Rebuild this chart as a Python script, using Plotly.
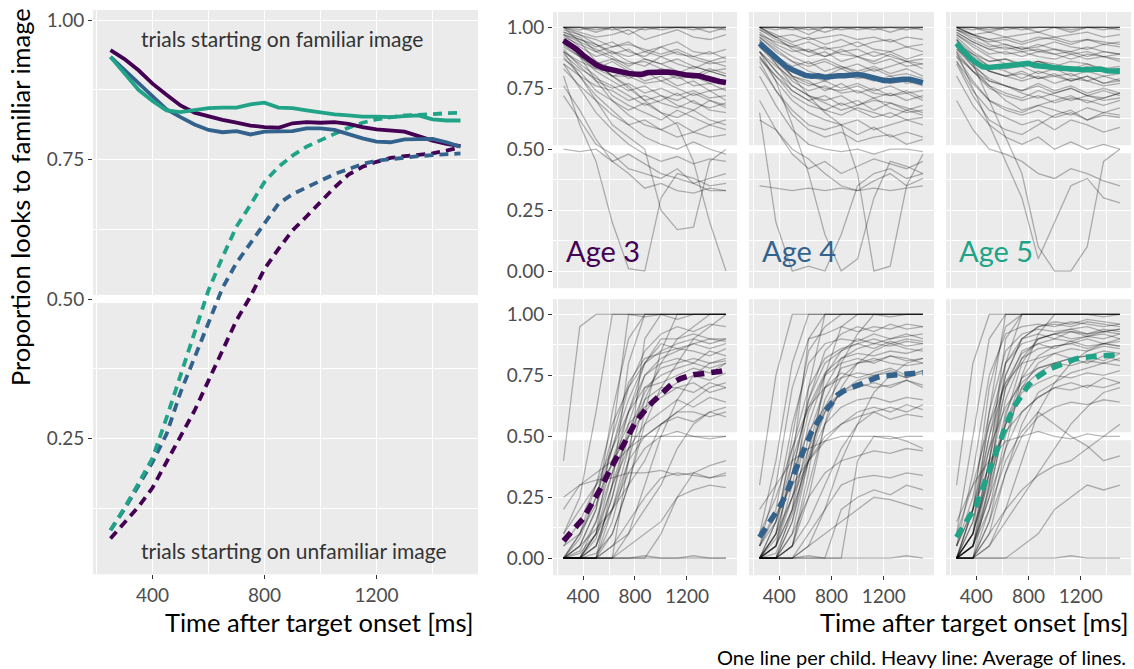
import plotly.graph_objects as go

# ---------------- data ----------------
avg_times = [250, 300, 350, 400, 450, 500, 550, 600, 650, 700, 750, 800, 850,
             900, 950, 1000, 1050, 1100, 1150, 1200, 1250, 1300, 1350, 1400, 1450, 1500]

fam_avg_age3 = [0.946, 0.930, 0.910, 0.886, 0.866, 0.847, 0.834, 0.827, 0.821, 0.816, 0.811, 0.808, 0.807,
                0.815, 0.817, 0.816, 0.817, 0.814, 0.808, 0.804, 0.802, 0.800, 0.792, 0.784, 0.778, 0.774]
fam_avg_age4 = [0.934, 0.910, 0.888, 0.862, 0.840, 0.826, 0.813, 0.803, 0.799, 0.801, 0.795, 0.800, 0.801,
                0.801, 0.806, 0.806, 0.803, 0.795, 0.788, 0.782, 0.781, 0.786, 0.787, 0.787, 0.781, 0.773]
fam_avg_age5 = [0.934, 0.905, 0.875, 0.855, 0.838, 0.835, 0.838, 0.842, 0.843, 0.843, 0.849, 0.852, 0.843,
                0.842, 0.838, 0.834, 0.831, 0.829, 0.827, 0.827, 0.826, 0.828, 0.829, 0.822, 0.820, 0.820]

unf_avg_age3 = [0.071, 0.100, 0.128, 0.162, 0.208, 0.252, 0.300, 0.354, 0.408, 0.462, 0.505, 0.554, 0.590,
                0.623, 0.648, 0.675, 0.700, 0.723, 0.737, 0.746, 0.753, 0.756, 0.758, 0.761, 0.766, 0.772]
unf_avg_age4 = [0.086, 0.124, 0.166, 0.208, 0.258, 0.333, 0.395, 0.458, 0.520, 0.565, 0.600, 0.636, 0.671,
                0.688, 0.700, 0.711, 0.724, 0.733, 0.742, 0.748, 0.751, 0.754, 0.756, 0.758, 0.760, 0.761]
unf_avg_age5 = [0.086, 0.126, 0.170, 0.215, 0.287, 0.362, 0.437, 0.516, 0.575, 0.630, 0.669, 0.710, 0.737,
                0.757, 0.773, 0.785, 0.796, 0.807, 0.816, 0.822, 0.826, 0.829, 0.830, 0.832, 0.833, 0.834]

child_times = [250, 375, 500, 625, 750, 875, 1000, 1125, 1250, 1375, 1500]

fam_children_age3 = [
    [1.00, 1.00, 1.00, 1.00, 1.00, 1.00, 1.00, 1.00, 1.00, 1.00, 1.00],
    [1.00, 1.00, 1.00, 0.99, 1.00, 1.00, 1.00, 1.00, 0.99, 1.00, 1.00],
    [1.00, 1.00, 0.98, 1.00, 1.00, 1.00, 0.99, 1.00, 1.00, 1.00, 1.00],
    [1.00, 0.99, 1.00, 1.00, 0.97, 1.00, 1.00, 1.00, 1.00, 0.98, 1.00],
    [1.00, 0.98, 0.96, 0.97, 0.99, 0.95, 0.97, 0.99, 0.96, 0.95, 0.97],
    [0.98, 0.95, 0.92, 0.94, 0.90, 0.88, 0.92, 0.94, 0.90, 0.89, 0.91],
    [0.97, 0.92, 0.88, 0.90, 0.86, 0.84, 0.88, 0.85, 0.83, 0.86, 0.84],
    [0.95, 0.90, 0.85, 0.80, 0.82, 0.78, 0.80, 0.76, 0.78, 0.74, 0.75],
    [0.93, 0.88, 0.83, 0.86, 0.82, 0.80, 0.83, 0.81, 0.79, 0.82, 0.80],
    [0.92, 0.88, 0.82, 0.78, 0.74, 0.76, 0.72, 0.70, 0.73, 0.70, 0.68],
    [1.00, 0.94, 0.86, 0.80, 0.76, 0.70, 0.72, 0.68, 0.66, 0.70, 0.67],
    [0.90, 0.85, 0.80, 0.72, 0.68, 0.65, 0.62, 0.66, 0.63, 0.60, 0.62],
    [0.95, 0.88, 0.78, 0.70, 0.64, 0.60, 0.58, 0.55, 0.57, 0.60, 0.58],
    [0.88, 0.80, 0.72, 0.66, 0.60, 0.55, 0.52, 0.50, 0.53, 0.50, 0.48],
    [0.85, 0.75, 0.65, 0.58, 0.52, 0.48, 0.45, 0.47, 0.44, 0.46, 0.45],
    [0.72, 0.62, 0.52, 0.48, 0.42, 0.40, 0.38, 0.42, 0.36, 0.38, 0.40],
    [0.76, 0.66, 0.54, 0.45, 0.40, 0.34, 0.36, 0.33, 0.32, 0.34, 0.33],
    [0.50, 0.49, 0.50, 0.45, 0.48, 0.44, 0.40, 0.38, 0.36, 0.33, 0.33],
    [0.80, 0.60, 0.45, 0.20, 0.01, 0.00, 0.30, 0.40, 0.38, 0.35, 0.36],
    [0.90, 0.80, 0.70, 0.60, 0.55, 0.50, 0.25, 0.17, 0.18, 0.45, 0.50],
    [0.95, 0.90, 0.85, 0.80, 0.75, 0.70, 0.65, 0.60, 0.45, 0.20, 0.00],
    [0.97, 0.95, 0.93, 0.90, 0.88, 0.90, 0.92, 0.89, 0.88, 0.86, 0.88],
    [0.98, 0.96, 0.90, 0.92, 0.94, 0.90, 0.88, 0.90, 0.87, 0.85, 0.86],
    [0.93, 0.90, 0.85, 0.87, 0.83, 0.80, 0.82, 0.79, 0.80, 0.77, 0.78],
    [0.90, 0.86, 0.83, 0.80, 0.80, 0.77, 0.78, 0.75, 0.72, 0.74, 0.70],
    [0.85, 0.80, 0.76, 0.74, 0.70, 0.72, 0.69, 0.67, 0.70, 0.66, 0.65],
    [0.96, 0.93, 0.90, 0.87, 0.85, 0.86, 0.83, 0.81, 0.84, 0.82, 0.80],
    [0.99, 0.97, 0.95, 0.92, 0.93, 0.91, 0.89, 0.91, 0.88, 0.90, 0.87],
    [0.91, 0.84, 0.78, 0.75, 0.77, 0.73, 0.75, 0.72, 0.74, 0.71, 0.72],
    [0.94, 0.89, 0.86, 0.83, 0.79, 0.82, 0.78, 0.80, 0.76, 0.77, 0.74],
    [0.87, 0.82, 0.74, 0.70, 0.66, 0.69, 0.65, 0.63, 0.66, 0.62, 0.60],
    [1.00, 0.97, 0.93, 0.89, 0.91, 0.87, 0.85, 0.87, 0.84, 0.82, 0.83],
    [0.89, 0.83, 0.79, 0.76, 0.72, 0.68, 0.70, 0.73, 0.69, 0.67, 0.69],
    [0.97, 0.94, 0.91, 0.88, 0.84, 0.87, 0.85, 0.82, 0.80, 0.83, 0.81],
    [0.83, 0.76, 0.70, 0.64, 0.60, 0.62, 0.58, 0.61, 0.57, 0.55, 0.56],
    [1.00, 1.00, 0.99, 1.00, 1.00, 0.99, 1.00, 1.00, 1.00, 1.00, 0.99],
]

fam_children_age4 = [
    [1.00, 1.00, 1.00, 1.00, 1.00, 1.00, 1.00, 1.00, 1.00, 1.00, 1.00],
    [1.00, 1.00, 0.99, 1.00, 1.00, 1.00, 1.00, 0.99, 1.00, 1.00, 1.00],
    [1.00, 1.00, 1.00, 1.00, 0.98, 1.00, 1.00, 1.00, 1.00, 1.00, 0.99],
    [1.00, 0.99, 1.00, 0.97, 1.00, 0.99, 1.00, 1.00, 0.98, 1.00, 1.00],
    [1.00, 0.97, 0.94, 0.96, 0.93, 0.95, 0.92, 0.94, 0.95, 0.92, 0.93],
    [0.98, 0.93, 0.90, 0.91, 0.88, 0.90, 0.91, 0.88, 0.90, 0.87, 0.89],
    [0.96, 0.90, 0.86, 0.84, 0.86, 0.83, 0.85, 0.82, 0.84, 0.86, 0.83],
    [0.94, 0.88, 0.82, 0.80, 0.78, 0.81, 0.79, 0.80, 0.77, 0.78, 0.76],
    [0.92, 0.86, 0.80, 0.77, 0.75, 0.74, 0.76, 0.73, 0.72, 0.74, 0.71],
    [0.95, 0.85, 0.76, 0.72, 0.70, 0.72, 0.68, 0.70, 0.69, 0.66, 0.68],
    [0.90, 0.82, 0.74, 0.70, 0.66, 0.64, 0.67, 0.65, 0.63, 0.66, 0.64],
    [0.88, 0.78, 0.70, 0.65, 0.62, 0.60, 0.62, 0.58, 0.60, 0.62, 0.60],
    [0.86, 0.74, 0.64, 0.58, 0.55, 0.57, 0.53, 0.55, 0.56, 0.52, 0.54],
    [0.80, 0.68, 0.58, 0.52, 0.50, 0.49, 0.50, 0.48, 0.50, 0.50, 0.49],
    [0.70, 0.58, 0.48, 0.42, 0.45, 0.40, 0.43, 0.46, 0.44, 0.42, 0.45],
    [0.35, 0.34, 0.33, 0.34, 0.33, 0.34, 0.33, 0.34, 0.33, 0.34, 0.35],
    [0.65, 0.20, 0.00, 0.02, 0.00, 0.15, 0.35, 0.40, 0.42, 0.38, 0.40],
    [0.90, 0.78, 0.60, 0.40, 0.15, 0.00, 0.05, 0.30, 0.45, 0.43, 0.40],
    [0.95, 0.88, 0.80, 0.72, 0.65, 0.60, 0.40, 0.00, 0.02, 0.35, 0.48],
    [0.62, 0.58, 0.50, 0.46, 0.40, 0.35, 0.33, 0.37, 0.40, 0.35, 0.38],
    [0.97, 0.94, 0.92, 0.90, 0.92, 0.89, 0.88, 0.90, 0.88, 0.86, 0.87],
    [0.99, 0.95, 0.92, 0.94, 0.91, 0.92, 0.94, 0.91, 0.90, 0.92, 0.90],
    [0.93, 0.88, 0.84, 0.86, 0.82, 0.84, 0.81, 0.83, 0.80, 0.81, 0.79],
    [0.90, 0.84, 0.79, 0.76, 0.78, 0.75, 0.77, 0.74, 0.76, 0.73, 0.74],
    [0.87, 0.80, 0.74, 0.70, 0.72, 0.68, 0.70, 0.66, 0.69, 0.67, 0.65],
    [1.00, 0.96, 0.97, 0.95, 0.96, 0.97, 0.95, 0.96, 0.94, 0.96, 0.95],
    [0.97, 0.92, 0.88, 0.85, 0.87, 0.84, 0.82, 0.84, 0.81, 0.83, 0.80],
    [0.99, 0.96, 0.93, 0.90, 0.88, 0.91, 0.88, 0.86, 0.89, 0.86, 0.85],
    [0.92, 0.85, 0.78, 0.74, 0.76, 0.73, 0.74, 0.71, 0.73, 0.70, 0.72],
    [0.94, 0.87, 0.80, 0.78, 0.74, 0.77, 0.73, 0.75, 0.72, 0.73, 0.70],
    [0.88, 0.80, 0.72, 0.68, 0.66, 0.69, 0.66, 0.63, 0.65, 0.62, 0.63],
    [1.00, 0.96, 0.91, 0.88, 0.90, 0.86, 0.88, 0.85, 0.87, 0.84, 0.85],
    [0.90, 0.82, 0.76, 0.72, 0.69, 0.66, 0.68, 0.71, 0.67, 0.65, 0.66],
    [0.96, 0.91, 0.86, 0.82, 0.80, 0.83, 0.80, 0.78, 0.80, 0.77, 0.78],
    [0.84, 0.74, 0.66, 0.60, 0.58, 0.60, 0.56, 0.59, 0.55, 0.57, 0.55],
    [1.00, 1.00, 1.00, 0.99, 1.00, 1.00, 0.99, 1.00, 1.00, 0.99, 1.00],
]

fam_children_age5 = [
    [1.00, 1.00, 1.00, 1.00, 1.00, 1.00, 1.00, 1.00, 1.00, 1.00, 1.00],
    [1.00, 1.00, 1.00, 0.99, 1.00, 1.00, 1.00, 1.00, 1.00, 0.99, 1.00],
    [1.00, 0.99, 1.00, 1.00, 1.00, 0.98, 1.00, 1.00, 1.00, 1.00, 1.00],
    [1.00, 1.00, 0.98, 1.00, 0.99, 1.00, 1.00, 0.98, 1.00, 1.00, 0.99],
    [1.00, 0.97, 0.95, 0.96, 0.94, 0.96, 0.95, 0.93, 0.95, 0.94, 0.93],
    [0.99, 0.95, 0.92, 0.93, 0.91, 0.92, 0.94, 0.92, 0.91, 0.93, 0.92],
    [0.97, 0.93, 0.89, 0.90, 0.88, 0.90, 0.89, 0.87, 0.89, 0.88, 0.87],
    [0.96, 0.90, 0.86, 0.87, 0.85, 0.86, 0.84, 0.86, 0.85, 0.83, 0.84],
    [0.94, 0.88, 0.84, 0.83, 0.84, 0.81, 0.83, 0.80, 0.82, 0.80, 0.81],
    [0.95, 0.87, 0.82, 0.80, 0.78, 0.80, 0.77, 0.79, 0.78, 0.76, 0.77],
    [0.92, 0.85, 0.78, 0.76, 0.74, 0.76, 0.73, 0.75, 0.72, 0.74, 0.72],
    [0.90, 0.82, 0.75, 0.72, 0.70, 0.72, 0.69, 0.71, 0.70, 0.68, 0.70],
    [0.88, 0.78, 0.70, 0.67, 0.65, 0.68, 0.66, 0.64, 0.67, 0.65, 0.64],
    [0.86, 0.74, 0.66, 0.63, 0.60, 0.62, 0.58, 0.62, 0.60, 0.57, 0.59],
    [0.80, 0.68, 0.60, 0.55, 0.52, 0.55, 0.50, 0.53, 0.50, 0.52, 0.50],
    [0.70, 0.58, 0.50, 0.48, 0.45, 0.40, 0.38, 0.42, 0.40, 0.37, 0.35],
    [0.90, 0.75, 0.60, 0.45, 0.30, 0.05, 0.20, 0.35, 0.38, 0.30, 0.28],
    [0.95, 0.85, 0.70, 0.55, 0.40, 0.10, 0.00, 0.00, 0.10, 0.45, 0.50],
    [0.98, 0.94, 0.91, 0.92, 0.90, 0.91, 0.89, 0.90, 0.88, 0.90, 0.89],
    [0.99, 0.96, 0.94, 0.95, 0.93, 0.95, 0.96, 0.94, 0.95, 0.93, 0.94],
    [0.93, 0.89, 0.86, 0.87, 0.84, 0.86, 0.85, 0.83, 0.85, 0.82, 0.83],
    [0.91, 0.86, 0.82, 0.80, 0.82, 0.79, 0.81, 0.78, 0.80, 0.77, 0.78],
    [0.88, 0.82, 0.78, 0.76, 0.74, 0.77, 0.74, 0.76, 0.73, 0.75, 0.73],
    [1.00, 0.97, 0.98, 0.96, 0.97, 0.98, 0.96, 0.97, 0.98, 0.96, 0.97],
    [0.85, 0.72, 0.62, 0.58, 0.56, 0.60, 0.64, 0.66, 0.62, 0.65, 0.67],
    [0.92, 0.84, 0.76, 0.70, 0.66, 0.68, 0.70, 0.72, 0.69, 0.71, 0.73],
    [0.98, 0.94, 0.91, 0.89, 0.90, 0.88, 0.87, 0.89, 0.87, 0.88, 0.86],
    [0.99, 0.97, 0.95, 0.93, 0.91, 0.93, 0.91, 0.90, 0.92, 0.90, 0.89],
    [0.93, 0.87, 0.82, 0.80, 0.81, 0.79, 0.80, 0.78, 0.80, 0.77, 0.79],
    [0.95, 0.89, 0.84, 0.82, 0.79, 0.82, 0.80, 0.81, 0.78, 0.80, 0.78],
    [0.89, 0.82, 0.76, 0.73, 0.71, 0.74, 0.72, 0.70, 0.72, 0.70, 0.71],
    [1.00, 0.97, 0.93, 0.91, 0.92, 0.90, 0.91, 0.89, 0.90, 0.88, 0.89],
    [0.91, 0.84, 0.79, 0.76, 0.73, 0.71, 0.73, 0.75, 0.72, 0.71, 0.73],
    [0.97, 0.92, 0.88, 0.85, 0.84, 0.86, 0.84, 0.82, 0.84, 0.82, 0.83],
    [0.86, 0.77, 0.70, 0.66, 0.64, 0.66, 0.63, 0.65, 0.62, 0.64, 0.63],
    [1.00, 1.00, 0.99, 1.00, 1.00, 1.00, 1.00, 0.99, 1.00, 1.00, 1.00],
]

unf_children_age3 = [
    [0.00, 0.00, 0.10, 0.50, 1.00, 1.00, 1.00, 1.00, 1.00, 1.00, 1.00],
    [0.00, 0.00, 0.00, 0.30, 0.80, 1.00, 1.00, 1.00, 1.00, 1.00, 1.00],
    [0.00, 0.05, 0.20, 0.60, 0.90, 1.00, 1.00, 0.98, 1.00, 1.00, 1.00],
    [0.00, 0.00, 0.00, 0.00, 0.40, 0.90, 1.00, 1.00, 1.00, 1.00, 1.00],
    [0.00, 0.00, 0.00, 0.10, 0.30, 0.60, 0.85, 1.00, 1.00, 1.00, 1.00],
    [0.00, 0.10, 0.30, 0.55, 0.70, 0.80, 0.85, 0.88, 0.90, 0.88, 0.90],
    [0.00, 0.00, 0.15, 0.40, 0.60, 0.75, 0.80, 0.82, 0.80, 0.85, 0.83],
    [0.05, 0.15, 0.30, 0.45, 0.60, 0.70, 0.72, 0.75, 0.78, 0.76, 0.80],
    [0.00, 0.00, 0.05, 0.25, 0.50, 0.65, 0.70, 0.70, 0.72, 0.68, 0.70],
    [0.00, 0.02, 0.10, 0.30, 0.45, 0.55, 0.60, 0.65, 0.62, 0.66, 0.64],
    [0.20, 0.30, 0.35, 0.40, 0.50, 0.50, 0.50, 0.50, 0.50, 0.50, 0.50],
    [0.00, 0.00, 0.10, 0.20, 0.35, 0.45, 0.50, 0.52, 0.50, 0.49, 0.50],
    [0.00, 0.00, 0.00, 0.05, 0.15, 0.25, 0.33, 0.35, 0.34, 0.33, 0.34],
    [0.00, 0.00, 0.00, 0.00, 0.00, 0.00, 0.10, 0.25, 0.35, 0.38, 0.40],
    [0.00, 0.00, 0.00, 0.00, 0.00, 0.00, 0.00, 0.00, 0.01, 0.00, 0.00],
    [0.00, 0.00, 0.00, 0.00, 0.00, 0.01, 0.00, 0.00, 0.00, 0.00, 0.00],
    [0.10, 0.25, 0.60, 1.00, 1.00, 1.00, 1.00, 1.00, 1.00, 1.00, 1.00],
    [0.40, 0.95, 1.00, 1.00, 1.00, 0.99, 1.00, 1.00, 1.00, 1.00, 1.00],
    [0.00, 0.10, 0.25, 0.45, 0.65, 0.80, 0.90, 0.90, 0.92, 0.90, 0.90],
    [0.00, 0.00, 0.00, 0.20, 0.45, 0.70, 0.75, 0.78, 0.80, 0.78, 0.80],
    [0.00, 0.05, 0.12, 0.20, 0.30, 0.40, 0.55, 0.60, 0.60, 0.58, 0.60],
    [0.00, 0.00, 0.00, 0.00, 0.05, 0.10, 0.15, 0.25, 0.28, 0.30, 0.29],
    [0.00, 0.00, 0.02, 0.10, 0.30, 0.55, 0.70, 0.80, 0.90, 0.95, 1.00],
    [0.00, 0.00, 0.05, 0.20, 0.40, 0.50, 0.55, 0.60, 0.65, 0.70, 0.72],
    [0.25, 0.30, 0.32, 0.33, 0.35, 0.35, 0.36, 0.34, 0.35, 0.33, 0.35],
    [0.00, 0.00, 0.00, 0.05, 0.10, 0.20, 0.30, 0.45, 0.55, 0.60, 0.62],
    [0.00, 0.05, 0.20, 0.45, 0.70, 0.85, 0.92, 0.95, 0.93, 0.96, 0.95],
    [0.00, 0.00, 0.10, 0.35, 0.60, 0.80, 0.88, 0.86, 0.88, 0.90, 0.89],
    [0.00, 0.08, 0.25, 0.50, 0.72, 0.82, 0.84, 0.86, 0.85, 0.83, 0.86],
    [0.00, 0.00, 0.05, 0.25, 0.55, 0.75, 0.82, 0.85, 0.88, 0.86, 0.88],
    [0.05, 0.10, 0.22, 0.40, 0.55, 0.62, 0.66, 0.70, 0.68, 0.72, 0.70],
    [0.00, 0.00, 0.00, 0.15, 0.40, 0.65, 0.80, 0.90, 0.95, 1.00, 1.00],
    [0.00, 0.03, 0.15, 0.35, 0.50, 0.60, 0.68, 0.72, 0.75, 0.73, 0.76],
    [0.00, 0.00, 0.08, 0.30, 0.52, 0.68, 0.78, 0.80, 0.82, 0.80, 0.81],
    [0.10, 0.20, 0.30, 0.38, 0.45, 0.50, 0.55, 0.58, 0.56, 0.60, 0.58],
    [0.00, 0.00, 0.00, 0.00, 0.10, 0.30, 0.50, 0.65, 0.75, 0.80, 0.82],
]

unf_children_age4 = [
    [0.00, 0.05, 0.40, 0.90, 1.00, 1.00, 1.00, 1.00, 1.00, 1.00, 1.00],
    [0.00, 0.00, 0.20, 0.70, 1.00, 1.00, 1.00, 1.00, 1.00, 1.00, 1.00],
    [0.00, 0.10, 0.50, 0.85, 0.95, 1.00, 1.00, 1.00, 0.99, 1.00, 1.00],
    [0.00, 0.00, 0.05, 0.35, 0.75, 0.95, 1.00, 1.00, 1.00, 1.00, 1.00],
    [0.05, 0.30, 0.70, 0.90, 0.92, 0.95, 0.93, 0.95, 0.94, 0.96, 0.95],
    [0.00, 0.15, 0.45, 0.70, 0.82, 0.86, 0.88, 0.86, 0.89, 0.87, 0.88],
    [0.00, 0.05, 0.30, 0.60, 0.75, 0.80, 0.82, 0.80, 0.83, 0.81, 0.82],
    [0.10, 0.25, 0.45, 0.62, 0.70, 0.74, 0.76, 0.75, 0.77, 0.74, 0.76],
    [0.00, 0.00, 0.15, 0.40, 0.60, 0.68, 0.72, 0.70, 0.71, 0.73, 0.70],
    [0.00, 0.05, 0.20, 0.40, 0.55, 0.62, 0.65, 0.66, 0.64, 0.66, 0.65],
    [0.00, 0.10, 0.25, 0.40, 0.50, 0.55, 0.58, 0.60, 0.57, 0.59, 0.58],
    [0.20, 0.30, 0.40, 0.45, 0.48, 0.50, 0.50, 0.50, 0.49, 0.50, 0.50],
    [0.00, 0.00, 0.10, 0.25, 0.35, 0.40, 0.42, 0.44, 0.43, 0.45, 0.44],
    [0.00, 0.00, 0.00, 0.10, 0.20, 0.30, 0.33, 0.34, 0.33, 0.35, 0.34],
    [0.00, 0.00, 0.00, 0.00, 0.00, 0.00, 0.40, 0.50, 0.50, 0.48, 0.45],
    [0.00, 0.00, 0.00, 0.01, 0.00, 0.00, 0.00, 0.00, 0.00, 0.01, 0.00],
    [0.30, 0.75, 1.00, 1.00, 1.00, 1.00, 1.00, 1.00, 1.00, 1.00, 1.00],
    [0.10, 0.40, 0.80, 1.00, 1.00, 1.00, 1.00, 1.00, 1.00, 1.00, 1.00],
    [0.00, 0.10, 0.35, 0.65, 0.80, 0.85, 0.90, 0.88, 0.90, 0.92, 0.90],
    [0.00, 0.00, 0.10, 0.40, 0.65, 0.78, 0.80, 0.82, 0.80, 0.79, 0.80],
    [0.00, 0.05, 0.20, 0.50, 0.70, 0.76, 0.74, 0.76, 0.78, 0.75, 0.77],
    [0.00, 0.00, 0.05, 0.15, 0.30, 0.45, 0.55, 0.60, 0.62, 0.60, 0.63],
    [0.00, 0.00, 0.00, 0.05, 0.10, 0.15, 0.20, 0.25, 0.24, 0.22, 0.20],
    [0.05, 0.20, 0.55, 0.80, 0.88, 0.90, 0.89, 0.92, 0.90, 0.91, 0.92],
    [0.00, 0.00, 0.05, 0.30, 0.55, 0.70, 0.80, 0.85, 0.88, 0.86, 0.85],
    [0.00, 0.00, 0.00, 0.00, 0.00, 0.20, 0.25, 0.28, 0.26, 0.30, 0.28],
    [0.00, 0.10, 0.35, 0.65, 0.85, 0.92, 0.95, 0.93, 0.96, 0.94, 0.95],
    [0.00, 0.05, 0.25, 0.55, 0.75, 0.85, 0.88, 0.90, 0.88, 0.90, 0.89],
    [0.00, 0.15, 0.40, 0.62, 0.76, 0.82, 0.84, 0.83, 0.85, 0.84, 0.86],
    [0.00, 0.00, 0.15, 0.45, 0.70, 0.82, 0.86, 0.88, 0.87, 0.89, 0.88],
    [0.05, 0.15, 0.35, 0.52, 0.62, 0.68, 0.70, 0.72, 0.70, 0.73, 0.71],
    [0.00, 0.00, 0.05, 0.25, 0.55, 0.80, 0.92, 1.00, 1.00, 1.00, 1.00],
    [0.00, 0.08, 0.25, 0.45, 0.60, 0.68, 0.73, 0.75, 0.76, 0.74, 0.77],
    [0.00, 0.02, 0.18, 0.42, 0.62, 0.74, 0.80, 0.81, 0.83, 0.82, 0.80],
    [0.05, 0.18, 0.30, 0.40, 0.48, 0.55, 0.60, 0.62, 0.60, 0.63, 0.61],
    [0.00, 0.00, 0.00, 0.05, 0.20, 0.40, 0.55, 0.68, 0.75, 0.80, 0.82],
]

unf_children_age5 = [
    [0.00, 0.10, 0.60, 1.00, 1.00, 1.00, 1.00, 1.00, 1.00, 1.00, 1.00],
    [0.00, 0.05, 0.40, 0.90, 1.00, 1.00, 1.00, 1.00, 1.00, 1.00, 1.00],
    [0.00, 0.20, 0.70, 0.95, 1.00, 1.00, 1.00, 1.00, 1.00, 0.99, 1.00],
    [0.00, 0.00, 0.30, 0.80, 1.00, 1.00, 1.00, 1.00, 1.00, 1.00, 1.00],
    [0.05, 0.35, 0.75, 0.92, 0.95, 0.96, 0.95, 0.97, 0.96, 0.95, 0.96],
    [0.00, 0.20, 0.55, 0.80, 0.88, 0.90, 0.92, 0.90, 0.91, 0.93, 0.92],
    [0.00, 0.10, 0.40, 0.70, 0.82, 0.86, 0.87, 0.88, 0.86, 0.88, 0.87],
    [0.10, 0.30, 0.55, 0.72, 0.80, 0.82, 0.84, 0.82, 0.83, 0.85, 0.84],
    [0.00, 0.05, 0.30, 0.60, 0.74, 0.78, 0.80, 0.79, 0.81, 0.80, 0.82],
    [0.00, 0.10, 0.35, 0.55, 0.68, 0.72, 0.75, 0.74, 0.76, 0.75, 0.77],
    [0.00, 0.05, 0.25, 0.45, 0.60, 0.66, 0.70, 0.69, 0.71, 0.70, 0.72],
    [0.00, 0.00, 0.15, 0.35, 0.50, 0.58, 0.62, 0.64, 0.63, 0.65, 0.64],
    [0.15, 0.30, 0.40, 0.48, 0.50, 0.52, 0.50, 0.49, 0.51, 0.50, 0.50],
    [0.00, 0.00, 0.10, 0.20, 0.28, 0.34, 0.38, 0.40, 0.45, 0.50, 0.55],
    [0.00, 0.00, 0.00, 0.00, 0.05, 0.10, 0.20, 0.25, 0.30, 0.28, 0.30],
    [0.00, 0.00, 0.00, 0.00, 0.00, 0.00, 0.00, 0.01, 0.00, 0.00, 0.00],
    [0.30, 0.80, 1.00, 1.00, 1.00, 1.00, 1.00, 1.00, 1.00, 1.00, 1.00],
    [0.10, 0.50, 0.90, 1.00, 1.00, 1.00, 1.00, 1.00, 1.00, 1.00, 1.00],
    [0.00, 0.15, 0.50, 0.80, 0.90, 0.92, 0.90, 0.93, 0.91, 0.92, 0.90],
    [0.00, 0.05, 0.35, 0.70, 0.85, 0.88, 0.86, 0.89, 0.87, 0.88, 0.89],
    [0.00, 0.10, 0.40, 0.75, 0.90, 0.95, 0.96, 0.95, 0.97, 0.96, 0.95],
    [0.00, 0.00, 0.20, 0.50, 0.70, 0.80, 0.84, 0.86, 0.85, 0.87, 0.86],
    [0.05, 0.25, 0.60, 0.85, 0.92, 0.94, 0.93, 0.94, 0.95, 0.93, 0.94],
    [0.00, 0.00, 0.10, 0.35, 0.55, 0.68, 0.72, 0.76, 0.78, 0.80, 0.79],
    [0.00, 0.05, 0.20, 0.40, 0.52, 0.60, 0.55, 0.50, 0.46, 0.40, 0.42],
    [0.00, 0.00, 0.05, 0.15, 0.25, 0.35, 0.45, 0.55, 0.62, 0.68, 0.70],
    [0.00, 0.15, 0.45, 0.75, 0.90, 0.95, 0.97, 0.96, 0.98, 0.97, 0.96],
    [0.00, 0.10, 0.35, 0.65, 0.82, 0.90, 0.92, 0.94, 0.92, 0.93, 0.94],
    [0.00, 0.20, 0.50, 0.72, 0.84, 0.88, 0.90, 0.89, 0.91, 0.90, 0.92],
    [0.00, 0.05, 0.25, 0.58, 0.80, 0.90, 0.92, 0.93, 0.92, 0.94, 0.93],
    [0.05, 0.20, 0.45, 0.62, 0.72, 0.78, 0.80, 0.82, 0.80, 0.83, 0.81],
    [0.00, 0.00, 0.15, 0.45, 0.75, 0.92, 1.00, 1.00, 1.00, 1.00, 1.00],
    [0.00, 0.10, 0.32, 0.55, 0.70, 0.76, 0.80, 0.82, 0.83, 0.81, 0.84],
    [0.00, 0.05, 0.28, 0.55, 0.74, 0.83, 0.87, 0.88, 0.90, 0.88, 0.87],
    [0.05, 0.20, 0.38, 0.52, 0.60, 0.66, 0.70, 0.72, 0.70, 0.74, 0.72],
    [0.00, 0.00, 0.05, 0.20, 0.40, 0.60, 0.72, 0.80, 0.85, 0.88, 0.90],
]

age_labels = ["Age 3", "Age 4", "Age 5"]
age_colors = ["#440154", "#33638D", "#20A387"]

y_tickvals_left = [0.25, 0.50, 0.75, 1.00]
y_ticktext_left = ["0.25", "0.50", "0.75", "1.00"]
y_tickvals_right = [0.00, 0.25, 0.50, 0.75, 1.00]
y_ticktext_right = ["0.00", "0.25", "0.50", "0.75", "1.00"]
y_minor = [0.125, 0.375, 0.625, 0.875]
x_tickvals = [400, 800, 1200]
x_minor = [200, 600, 1000, 1400]

x_title = "Time after target onset [ms]"
y_title = "Proportion looks to familiar image"
caption = "One line per child. Heavy line: Average of lines."
top_note = "trials starting on familiar image"
bottom_note = "trials starting on unfamiliar image"

# ---------------- layout helpers ----------------
W, H = 1134, 669
FONT = "Lato, 'Open Sans', sans-serif"
TICK_FONT = dict(family=FONT, size=19, color="#4D4D4D")


def px_dom_x(a, b):
    return [a / W, b / W]


def px_dom_y(top, bottom):
    return [1 - bottom / H, 1 - top / H]


def axis_style(show_labels, tickvals, ticktext, minor_vals, rng, domain, anchor):
    d = dict(
        domain=domain, anchor=anchor, range=rng, autorange=False,
        showgrid=True, gridcolor="white", gridwidth=1.2,
        zeroline=False, showline=False,
        tickmode="array", tickvals=tickvals,
        minor=dict(tickmode="array", tickvals=minor_vals, showgrid=True,
                   gridcolor="white", gridwidth=0.6, ticks=""),
        fixedrange=True,
    )
    if ticktext is not None:
        d["ticktext"] = ticktext
    if show_labels:
        d.update(ticks="outside", ticklen=4, tickwidth=1.1, tickcolor="#333333",
                 showticklabels=True, tickfont=TICK_FONT)
    else:
        d.update(ticks="", showticklabels=False)
    return d


fig = go.Figure()

layout = dict(
    xaxis=axis_style(True, x_tickvals, None, x_minor, [187.5, 1562.5],
                     px_dom_x(93, 478), "y"),
    yaxis=axis_style(True, y_tickvals_left, y_ticktext_left, y_minor, [0.007, 1.018],
                     px_dom_y(8, 574), "x"),
)

col_px = [(553, 737), (749, 934), (946, 1131)]
row_px = [(10, 287), (298, 575)]
x_rng_r = [169, 1585]
y_rng_r = [-0.07, 1.063]

panel_axes = []
n = 2
for r in range(2):
    for c in range(3):
        xa, ya = f"xaxis{n}", f"yaxis{n}"
        layout[xa] = axis_style(r == 1, x_tickvals, None, x_minor, x_rng_r,
                                px_dom_x(*col_px[c]), f"y{n}")
        layout[ya] = axis_style(c == 0, y_tickvals_right, y_ticktext_right, y_minor, y_rng_r,
                                px_dom_y(*row_px[r]), f"x{n}")
        panel_axes.append((f"x{n}", f"y{n}"))
        n += 1

fam_children = [fam_children_age3, fam_children_age4, fam_children_age5]
unf_children = [unf_children_age3, unf_children_age4, unf_children_age5]
fam_avgs = [fam_avg_age3, fam_avg_age4, fam_avg_age5]
unf_avgs = [unf_avg_age3, unf_avg_age4, unf_avg_age5]

child_line = dict(color="rgba(0,0,0,0.28)", width=1.3)

for c in range(3):
    xr, yr = panel_axes[c]
    for ch in fam_children[c]:
        fig.add_trace(go.Scatter(x=child_times, y=ch, mode="lines", line=child_line,
                                 xaxis=xr, yaxis=yr, showlegend=False, hoverinfo="skip"))
    xr, yr = panel_axes[3 + c]
    for ch in unf_children[c]:
        fig.add_trace(go.Scatter(x=child_times, y=ch, mode="lines", line=child_line,
                                 xaxis=xr, yaxis=yr, showlegend=False, hoverinfo="skip"))

for c in range(3):
    xr, yr = panel_axes[c]
    fig.add_trace(go.Scatter(x=avg_times, y=fam_avgs[c], mode="lines",
                             line=dict(color=age_colors[c], width=5.5),
                             xaxis=xr, yaxis=yr, showlegend=False, hoverinfo="skip"))
    xr, yr = panel_axes[3 + c]
    fig.add_trace(go.Scatter(x=avg_times, y=unf_avgs[c], mode="lines",
                             line=dict(color=age_colors[c], width=5.5, dash="11px,7px"),
                             xaxis=xr, yaxis=yr, showlegend=False, hoverinfo="skip"))

for c in range(3):
    fig.add_trace(go.Scatter(x=avg_times, y=unf_avgs[c], mode="lines",
                             line=dict(color=age_colors[c], width=3.8, dash="9px,6px"),
                             xaxis="x", yaxis="y", showlegend=False, hoverinfo="skip"))
for c in range(3):
    fig.add_trace(go.Scatter(x=avg_times, y=fam_avgs[c], mode="lines",
                             line=dict(color=age_colors[c], width=3.8),
                             xaxis="x", yaxis="y", showlegend=False, hoverinfo="skip"))

# thick white reference line at 0.5 in every panel (white, so drawing it under the grid is fine)
shapes = []
for xr, yr in [("x", "y")] + panel_axes:
    shapes.append(dict(type="line", xref=f"{xr} domain", x0=0, x1=1, yref=yr, y0=0.5, y1=0.5,
                       line=dict(color="white", width=8), layer="below"))

annotations = [
    dict(text=top_note, xref="x", yref="y", x=350, y=0.967, xanchor="left", yanchor="middle",
         showarrow=False, font=dict(family=FONT, size=21, color="#333333")),
    dict(text=bottom_note, xref="x", yref="y", x=350, y=0.05, xanchor="left", yanchor="middle",
         showarrow=False, font=dict(family=FONT, size=21, color="#333333")),
    dict(text=y_title, xref="paper", yref="paper", x=20 / W, y=1 - 4 / H, xanchor="center",
         yanchor="top", textangle=-90, showarrow=False,
         font=dict(family=FONT, size=25.5, color="black")),
    dict(text=x_title, xref="paper", yref="paper", x=476 / W, y=1 - 622 / H, xanchor="right",
         yanchor="middle", showarrow=False, font=dict(family=FONT, size=25.5, color="black")),
    dict(text=x_title, xref="paper", yref="paper", x=1131 / W, y=1 - 622 / H, xanchor="right",
         yanchor="middle", showarrow=False, font=dict(family=FONT, size=25.5, color="black")),
    dict(text=caption, xref="paper", yref="paper", x=1128 / W, y=1 - 657 / H, xanchor="right",
         yanchor="middle", showarrow=False, font=dict(family=FONT, size=20, color="black")),
]
for c in range(3):
    xr, yr = panel_axes[c]
    annotations.append(dict(text=age_labels[c], xref=xr, yref=yr, x=250, y=0.085,
                            xanchor="left", yanchor="middle", showarrow=False,
                            font=dict(family=FONT, size=29, color=age_colors[c])))

fig.update_layout(
    width=W, height=H, margin=dict(l=0, r=0, t=0, b=0),
    paper_bgcolor="white", plot_bgcolor="#EBEBEB",
    showlegend=False, shapes=shapes, annotations=annotations,
    font=dict(family=FONT),
    **layout,
)

fig.write_html("out.html", config={"displayModeBar": False},
               post_script="document.body.style.margin='0px';")
